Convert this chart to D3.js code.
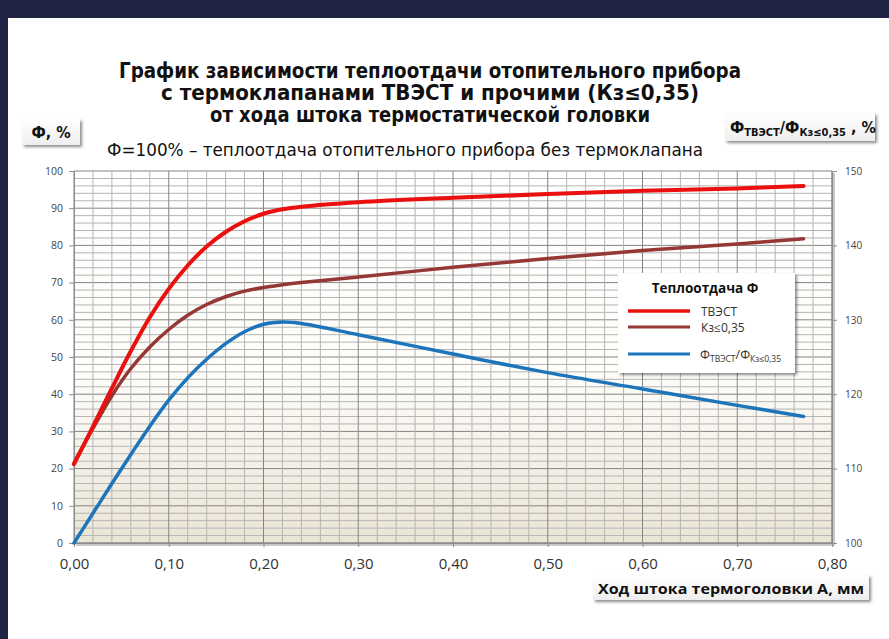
<!DOCTYPE html>
<html>
<head>
<meta charset="utf-8">
<title>Теплоотдача</title>
<script src="https://d3js.org/d3.v7.min.js"></script>
<style>
  body { margin: 0; background: #1f2344; }
  svg { display: block; }
</style>
</head>
<body>
<div id="chart"></div>
<script>
// stroke of the thermostatic head, mm
var strokeA = [0, 0.02, 0.04, 0.06, 0.08, 0.10, 0.12, 0.14, 0.16, 0.18, 0.20, 0.22, 0.24, 0.30, 0.40, 0.50, 0.60, 0.70, 0.77];
// heat output Ф, % (left axis)
var tvest = [21.2, 31.3, 41.6, 51.6, 60.7, 68.3, 74.6, 79.7, 83.6, 86.5, 88.5, 89.7, 90.4, 91.6, 92.8, 93.8, 94.7, 95.3, 96.0];
var kz035 = [21.5, 30.8, 39.6, 46.9, 52.7, 57.4, 61.2, 64.1, 66.2, 67.7, 68.7, 69.4, 70.0, 71.5, 74.1, 76.5, 78.6, 80.4, 81.8];
// ratio Фтвэст/Фкз, % (right axis)
var ratio = [100, 104, 108, 111.9, 115.7, 119.2, 122.2, 124.7, 126.8, 128.4, 129.4, 129.7, 129.5, 128.0, 125.4, 122.9, 120.7, 118.5, 117.0];

var xTicks = [0, 0.1, 0.2, 0.3, 0.4, 0.5, 0.6, 0.7, 0.8];
var yTicks = [0, 10, 20, 30, 40, 50, 60, 70, 80, 90, 100];
var yRTicks = [100, 110, 120, 130, 140, 150];

var width = 889, height = 639;
// plot area edges (note: "top" is reserved on window)
var pLeft = 74, pRight = 832, pTop = 171, pBottom = 543;

var svg = d3.select("#chart").append("svg")
    .attr("width", width)
    .attr("height", height);

var defs = svg.append("defs");
var bg = defs.append("linearGradient").attr("id", "plotbg").attr("x1", 0).attr("y1", 0).attr("x2", 0).attr("y2", 1);
bg.append("stop").attr("offset", "0%").attr("stop-color", "#ffffff");
bg.append("stop").attr("offset", "55%").attr("stop-color", "#fdfcf8");
bg.append("stop").attr("offset", "100%").attr("stop-color", "#ebe5d6");
var boxbg = defs.append("linearGradient").attr("id", "boxbg").attr("x1", 0).attr("y1", 0).attr("x2", 0).attr("y2", 1);
boxbg.append("stop").attr("offset", "0%").attr("stop-color", "#ffffff");
boxbg.append("stop").attr("offset", "100%").attr("stop-color", "#eeeeee");
var shadow = defs.append("filter").attr("id", "shadow").attr("x", "-10%").attr("y", "-10%").attr("width", "130%").attr("height", "140%");
shadow.append("feDropShadow").attr("dx", 2).attr("dy", 2).attr("stdDeviation", 1.5).attr("flood-color", "#000").attr("flood-opacity", 0.45);

// white slide panel
svg.append("rect").attr("x", 8).attr("y", 18).attr("width", width - 8).attr("height", height - 18).attr("fill", "#fff");

var x = d3.scaleLinear().domain([0, 0.8]).range([pLeft, pRight]);
var y = d3.scaleLinear().domain([0, 100]).range([pBottom, pTop]);
var yR = d3.scaleLinear().domain([100, 150]).range([pBottom, pTop]);

// plot area
svg.append("rect")
    .attr("x", pLeft).attr("y", pTop)
    .attr("width", pRight - pLeft).attr("height", pBottom - pTop)
    .attr("fill", "url(#plotbg)");

// grid
var grid = svg.append("g");
grid.selectAll(".hmin").data(d3.range(0, 101, 2)).enter().append("line")
    .attr("x1", pLeft).attr("x2", pRight)
    .attr("y1", function(d) { return y(d); }).attr("y2", function(d) { return y(d); })
    .attr("stroke", function(d) { return d % 10 == 0 ? "#858585" : "#b4b4b4"; })
    .attr("stroke-width", 1);
grid.selectAll(".vmin").data(d3.range(0, 41).map(function(i) { return i * 0.02; })).enter().append("line")
    .attr("y1", pTop).attr("y2", pBottom)
    .attr("x1", function(d) { return x(d); }).attr("x2", function(d) { return x(d); })
    .attr("stroke", function(d, i) { return i % 5 == 0 ? "#858585" : "#b4b4b4"; })
    .attr("stroke-width", 1);

// plot frame with shadow on the right and bottom
svg.append("line").attr("x1", pRight + 1.5).attr("x2", pRight + 1.5).attr("y1", pTop + 2).attr("y2", pBottom + 3)
    .attr("stroke", "#c8c8c8").attr("stroke-width", 3);
svg.append("line").attr("x1", pLeft + 2).attr("x2", pRight + 3).attr("y1", pBottom + 1.5).attr("y2", pBottom + 1.5)
    .attr("stroke", "#c8c8c8").attr("stroke-width", 3);
svg.append("line").attr("x1", pRight).attr("x2", pRight).attr("y1", pTop).attr("y2", pBottom)
    .attr("stroke", "#8c8c8c");
svg.append("line").attr("x1", pLeft).attr("x2", pRight).attr("y1", pBottom).attr("y2", pBottom)
    .attr("stroke", "#8c8c8c");

// axes
var fmt = d3.formatLocale({ decimal: ",", thousands: " ", grouping: [3], currency: ["", ""] }).format(".2f");

var gx = svg.append("g").attr("transform", "translate(0," + pBottom + ")")
    .call(d3.axisBottom(x).tickValues(xTicks).tickFormat(fmt).tickSize(4).tickPadding(11));
gx.selectAll("text").attr("font-size", "15px").attr("fill", "#333");

var gy = svg.append("g").attr("transform", "translate(" + pLeft + ",0)")
    .call(d3.axisLeft(y).tickValues(yTicks).tickSize(5).tickPadding(6));
gy.selectAll("text").attr("font-size", "10.5px").attr("fill", "#444");

var gyR = svg.append("g").attr("transform", "translate(" + pRight + ",0)")
    .call(d3.axisRight(yR).tickValues(yRTicks).tickSize(5).tickPadding(8));
gyR.selectAll("text").attr("font-size", "10px").attr("fill", "#444");

[gx, gy, gyR].forEach(function(g) {
  g.attr("font-family", "'Open Sans', sans-serif");
  g.select(".domain").attr("stroke", "#8c8c8c");
  g.selectAll(".tick line").attr("stroke", "#8c8c8c");
});

// curves
var line = d3.line()
    .x(function(d) { return x(d[0]); })
    .y(function(d) { return d[2](d[1]); })
    .curve(d3.curveCatmullRom.alpha(0.5));

function series(vals, scale) {
  return strokeA.map(function(a, i) { return [a, vals[i], scale]; });
}

svg.append("path").attr("d", line(series(kz035, y)))
    .attr("fill", "none").attr("stroke", "#953735").attr("stroke-width", 3.5).attr("stroke-linecap", "round");
svg.append("path").attr("d", line(series(ratio, yR)))
    .attr("fill", "none").attr("stroke", "#1c74bb").attr("stroke-width", 3.5).attr("stroke-linecap", "round");
svg.append("path").attr("d", line(series(tvest, y)))
    .attr("fill", "none").attr("stroke", "#ea1010").attr("stroke-width", 4).attr("stroke-linecap", "round");

// titles
var titleFont = "'Liberation Sans Narrow', 'DejaVu Sans Condensed', Roboto, sans-serif";
var titles = [
  { t: "График зависимости теплоотдачи отопительного прибора", y: 78, w: 622 },
  { t: "с термоклапанами ТВЭСТ и прочими (Кз≤0,35)", y: 100, w: 538 },
  { t: "от хода штока термостатической головки", y: 122, w: 440 }
];
svg.selectAll(".title").data(titles).enter().append("text")
    .attr("x", 430).attr("y", function(d) { return d.y; })
    .attr("text-anchor", "middle")
    .attr("font-family", titleFont).attr("font-weight", "bold").attr("font-size", "21px")
    .attr("fill", "#111")
    .attr("textLength", function(d) { return d.w; }).attr("lengthAdjust", "spacingAndGlyphs")
    .text(function(d) { return d.t; });

svg.append("text").attr("x", 107).attr("y", 156)
    .attr("font-family", titleFont).attr("font-size", "18px").attr("fill", "#111")
    .attr("textLength", 596).attr("lengthAdjust", "spacingAndGlyphs")
    .text("Ф=100% – теплоотдача отопительного прибора без термоклапана");

// axis caption boxes
function box(x0, y0, w, h) {
  svg.append("rect").attr("x", x0).attr("y", y0).attr("width", w).attr("height", h)
      .attr("fill", "url(#boxbg)").attr("filter", "url(#shadow)");
}
box(22, 119, 58, 26);
svg.append("text").attr("x", 51).attr("y", 138).attr("text-anchor", "middle")
    .attr("font-family", titleFont).attr("font-weight", "bold").attr("font-size", "16px").attr("fill", "#111")
    .text("Ф, %");

box(725, 113, 150, 28);
var rt = svg.append("text").attr("x", 730).attr("y", 133)
    .attr("font-family", titleFont).attr("font-weight", "bold").attr("font-size", "16px").attr("fill", "#111");
rt.append("tspan").text("Ф");
rt.append("tspan").attr("font-size", "11px").attr("dy", 3).text("ТВЭСТ");
rt.append("tspan").attr("dy", -3).text("/Ф");
rt.append("tspan").attr("font-size", "11px").attr("dy", 3).text("Кз≤0,35");
rt.append("tspan").attr("dy", -3).text(" , %");

box(593, 575, 276, 25);
svg.append("text").attr("x", 598).attr("y", 594)
    .attr("font-family", "'Open Sans', sans-serif").attr("font-weight", "bold").attr("font-size", "15px").attr("fill", "#111")
    .attr("textLength", 266).attr("lengthAdjust", "spacingAndGlyphs")
    .text("Ход штока термоголовки  А, мм");

// legend
var legendItems = [
  { name: "ТВЭСТ", color: "#ea1010", w: 3.5, y: 311 },
  { name: "Кз≤0,35", color: "#953735", w: 3, y: 327 },
  { name: "ratio", color: "#1c74bb", w: 3, y: 354 }
];
svg.append("rect").attr("x", 618).attr("y", 273).attr("width", 177).attr("height", 100)
    .attr("fill", "#fff").attr("filter", "url(#shadow)");
svg.append("text").attr("x", 705).attr("y", 293).attr("text-anchor", "middle")
    .attr("font-family", "'Open Sans', sans-serif").attr("font-weight", "bold").attr("font-size", "13.5px").attr("fill", "#111")
    .text("Теплоотдача Ф");
var lg = svg.selectAll(".leg").data(legendItems).enter().append("g");
lg.append("line").attr("x1", 628).attr("x2", 690)
    .attr("y1", function(d) { return d.y; }).attr("y2", function(d) { return d.y; })
    .attr("stroke", function(d) { return d.color; }).attr("stroke-width", function(d) { return d.w; });
lg.filter(function(d) { return d.name != "ratio"; }).append("text")
    .attr("x", 701).attr("y", function(d) { return d.y + 4.5; })
    .attr("font-family", "'Open Sans', sans-serif").attr("font-size", "12px").attr("fill", "#333")
    .text(function(d) { return d.name; });
var lt = svg.append("text").attr("x", 700).attr("y", 359)
    .attr("font-family", "'Open Sans', sans-serif").attr("font-size", "12.5px").attr("fill", "#333");
lt.append("tspan").text("Ф");
lt.append("tspan").attr("font-size", "8.5px").attr("dy", 3).text("ТВЭСТ");
lt.append("tspan").attr("dy", -3).text("/Ф");
lt.append("tspan").attr("font-size", "8.5px").attr("dy", 3).text("Кз≤0,35");
</script>
</body>
</html>
